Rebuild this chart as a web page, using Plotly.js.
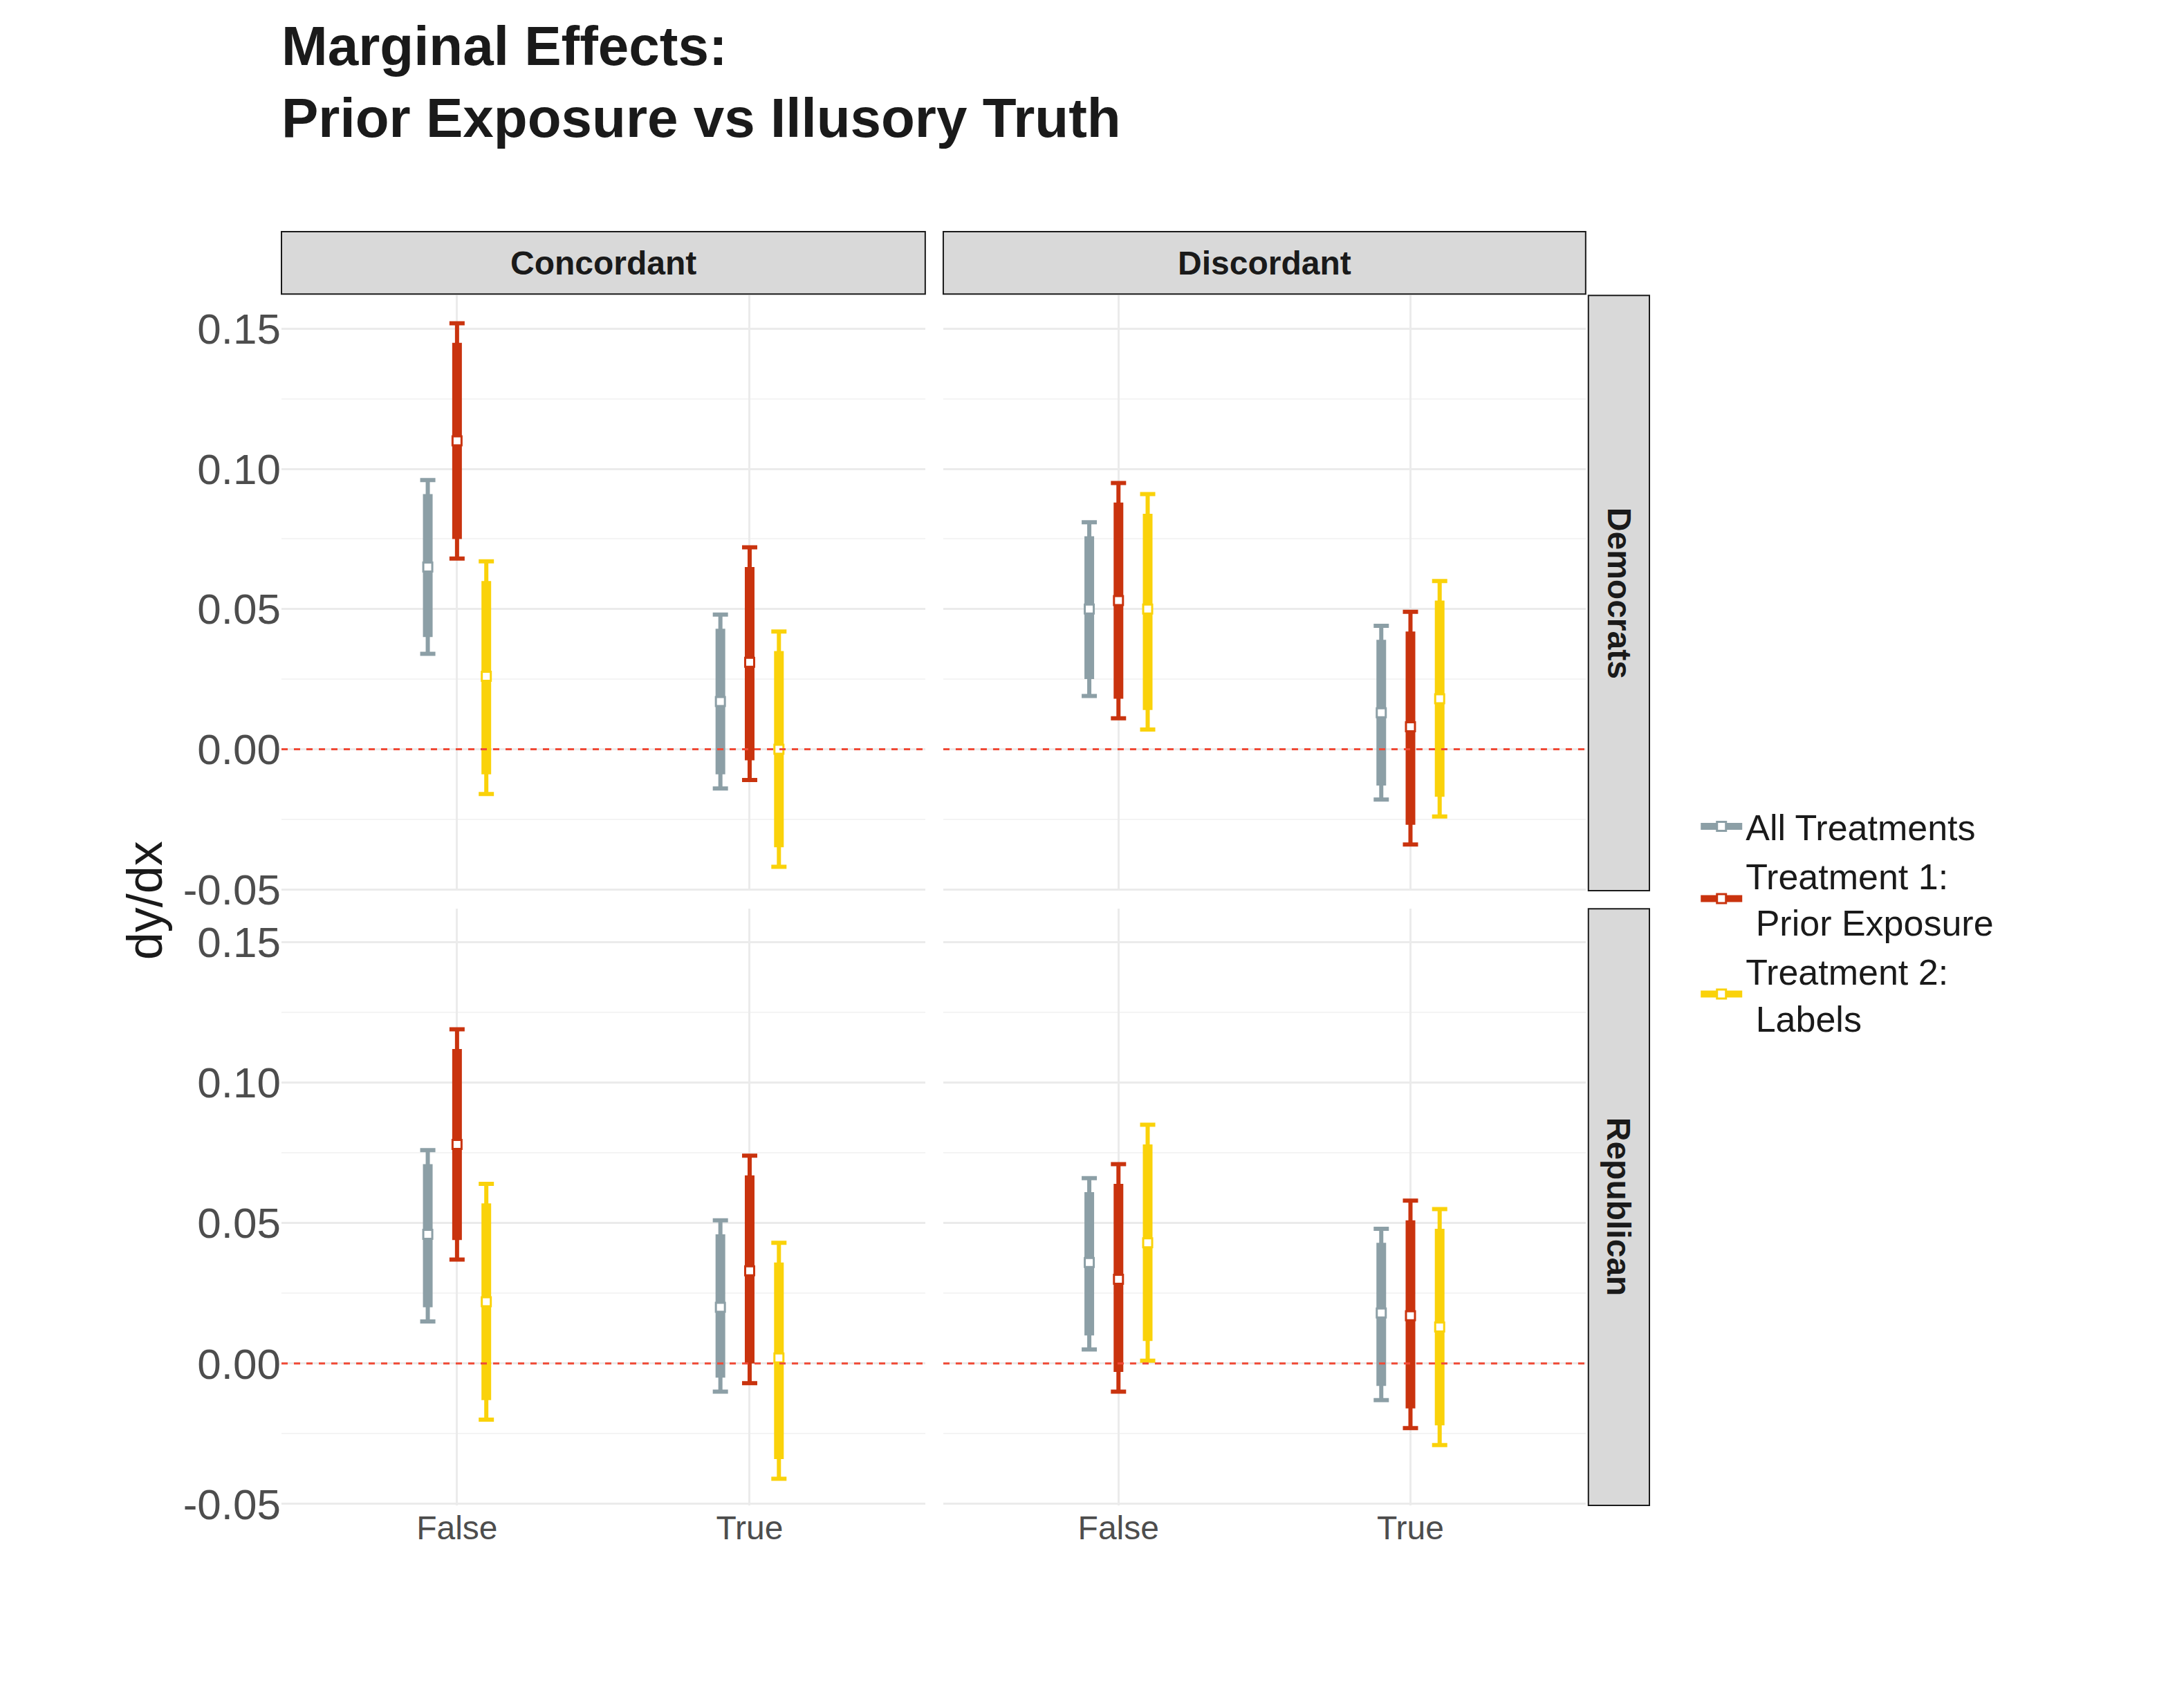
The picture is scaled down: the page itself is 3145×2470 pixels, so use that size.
<!DOCTYPE html>
<html><head><script src="https://cdn.plot.ly/plotly-3.0.1.min.js"></script></head>
<body style="margin:0"><div id="c" style="width:3145px;height:2470px"></div>
<script>
const rows=["Democrats","Republican"];
const cols=["Concordant","Discordant"];
const cats=["False","True"];
const seriesNames=["All Treatments","Treatment 1:<br> Prior Exposure","Treatment 2:<br> Labels"];
const colors=["#8C9FA6","#C9330E","#FAD20A"];
// [row][col][cat][series] = [outerLo, innerLo, point, innerHi, outerHi]
const est={
 Democrats:{
  Concordant:[[[0.034,0.040,0.065,0.091,0.096],[0.068,0.075,0.110,0.145,0.152],[-0.016,-0.009,0.026,0.060,0.067]],
              [[-0.014,-0.009,0.017,0.043,0.048],[-0.011,-0.004,0.031,0.065,0.072],[-0.042,-0.035,0.000,0.035,0.042]]],
  Discordant:[[[0.019,0.025,0.050,0.076,0.081],[0.011,0.018,0.053,0.088,0.095],[0.007,0.014,0.050,0.084,0.091]],
              [[-0.018,-0.013,0.013,0.039,0.044],[-0.034,-0.027,0.008,0.042,0.049],[-0.024,-0.017,0.018,0.053,0.060]]]},
 Republican:{
  Concordant:[[[0.015,0.020,0.046,0.071,0.076],[0.037,0.044,0.078,0.112,0.119],[-0.020,-0.013,0.022,0.057,0.064]],
              [[-0.010,-0.005,0.020,0.046,0.051],[-0.007,0.000,0.033,0.067,0.074],[-0.041,-0.034,0.002,0.036,0.043]]],
  Discordant:[[[0.005,0.010,0.036,0.061,0.066],[-0.010,-0.003,0.030,0.064,0.071],[0.001,0.008,0.043,0.078,0.085]],
              [[-0.013,-0.008,0.018,0.043,0.048],[-0.023,-0.016,0.017,0.051,0.058],[-0.029,-0.022,0.013,0.048,0.055]]]}
};
const yTicks=[-0.05,0,0.05,0.1,0.15];
const yTickText=["-0.05","0.00","0.05","0.10","0.15"];
const offs=[-0.1,0,0.1];
const xd=[[0,0.4706],[0.4838,0.9534]];
const yd=[[0.4826,0.9499],[0,0.4684]];
const traces=[],shapes=[],ann=[];
const layout={width:3145,height:2470,paper_bgcolor:"white",plot_bgcolor:"white",
 margin:{l:407,r:760,t:335,b:293},showlegend:true,
 font:{family:"Liberation Sans, Arial",color:"#4d4d4d"},
 title:{text:"<b>Marginal Effects:<br>Prior Exposure vs Illusory Truth</b>",x:0,xref:"paper",xanchor:"left",yref:"container",y:0.962,yanchor:"top",font:{size:80,color:"#1a1a1a"}},
 legend:{x:1.035,y:0.555,xanchor:"left",yanchor:"top",font:{size:52,color:"#1a1a1a"},tracegroupgap:6,itemwidth:60}
};
let k=0;
rows.forEach((r,ri)=>cols.forEach((c,ci)=>{
 k++;const ax=k===1?"":k;const xa="x"+ax,ya="y"+ax;
 layout["xaxis"+ax]={domain:xd[ci],anchor:ya,range:[0.4,2.6],tickvals:[1,2],ticktext:ri===1?cats:["",""],
  showgrid:true,gridcolor:"#ebebeb",gridwidth:3,zeroline:false,ticks:"",tickfont:{size:48,color:"#4d4d4d"},showline:false,fixedrange:true};
 layout["yaxis"+ax]={domain:yd[ri],anchor:xa,range:[-0.0505,0.1619],tickvals:yTicks,ticktext:ci===0?yTickText:["","","","",""],
  showgrid:true,gridcolor:"#ebebeb",gridwidth:3,zeroline:false,ticks:"",tickfont:{size:62,color:"#4d4d4d"},
  minor:{tickvals:[-0.025,0.025,0.075,0.125],showgrid:true,gridcolor:"#f4f4f4",gridwidth:2}};
 shapes.push({type:"line",xref:xa+" domain",yref:ya,x0:0,x1:1,y0:0,y1:0,line:{color:"#F04A36",width:3,dash:"dash"},layer:"above"});
 seriesNames.forEach((s,si)=>{
  const xs=[],pts=[],oh=[],ol=[],ih=[],il=[];
  cats.forEach((cat,gi)=>{const v=est[r][c][gi][si];xs.push(gi+1+offs[si]);pts.push(v[2]);
   ol.push(v[2]-v[0]);il.push(v[2]-v[1]);ih.push(v[3]-v[2]);oh.push(v[4]-v[2]);});
  traces.push({x:xs,y:pts,xaxis:xa,yaxis:ya,mode:"markers",marker:{size:0.1,opacity:0},showlegend:false,hoverinfo:"skip",
   error_y:{type:"data",symmetric:false,array:oh,arrayminus:ol,color:colors[si],thickness:6,width:11}});
  traces.push({x:xs,y:pts,xaxis:xa,yaxis:ya,mode:"markers",marker:{size:0.1,opacity:0},showlegend:false,hoverinfo:"skip",
   error_y:{type:"data",symmetric:false,array:ih,arrayminus:il,color:colors[si],thickness:14,width:0}});
  traces.push({x:xs,y:pts,xaxis:xa,yaxis:ya,mode:"markers",name:s,showlegend:false,
   marker:{symbol:"square",size:13,color:"white",line:{color:colors[si],width:3}}});
  if(k===1) traces.push({x:[null],y:[null],xaxis:xa,yaxis:ya,mode:"lines+markers",name:s,showlegend:true,
   line:{color:colors[si],width:14},marker:{symbol:"square",size:13,color:"white",line:{color:colors[si],width:3}}});
 });
}));
ann.push({xref:"paper",yref:"paper",x:-0.1,y:0.475,xanchor:"center",yanchor:"middle",text:"dy/dx",textangle:-90,showarrow:false,font:{size:72,color:"#1a1a1a"}});
cols.forEach((c,ci)=>{shapes.push({type:"rect",xref:"paper",yref:"paper",x0:xd[ci][0],x1:xd[ci][1],y0:0.951,y1:1,fillcolor:"#d9d9d9",line:{color:"#1a1a1a",width:2}});
 ann.push({xref:"paper",yref:"paper",x:(xd[ci][0]+xd[ci][1])/2,y:0.9755,xanchor:"center",yanchor:"middle",text:"<b>"+c+"</b>",showarrow:false,font:{size:48,color:"#1a1a1a"}});});
rows.forEach((r,ri)=>{shapes.push({type:"rect",xref:"paper",yref:"paper",x0:0.9554,x1:1,y0:yd[ri][0],y1:yd[ri][1],fillcolor:"#d9d9d9",line:{color:"#1a1a1a",width:2}});
 ann.push({xref:"paper",yref:"paper",x:0.9777,y:(yd[ri][0]+yd[ri][1])/2,xanchor:"center",yanchor:"middle",text:"<b>"+r+"</b>",textangle:90,showarrow:false,font:{size:48,color:"#1a1a1a"}});});
layout.shapes=shapes;layout.annotations=ann;
Plotly.newPlot("c",traces,layout,{staticPlot:true});
</script></body></html>
